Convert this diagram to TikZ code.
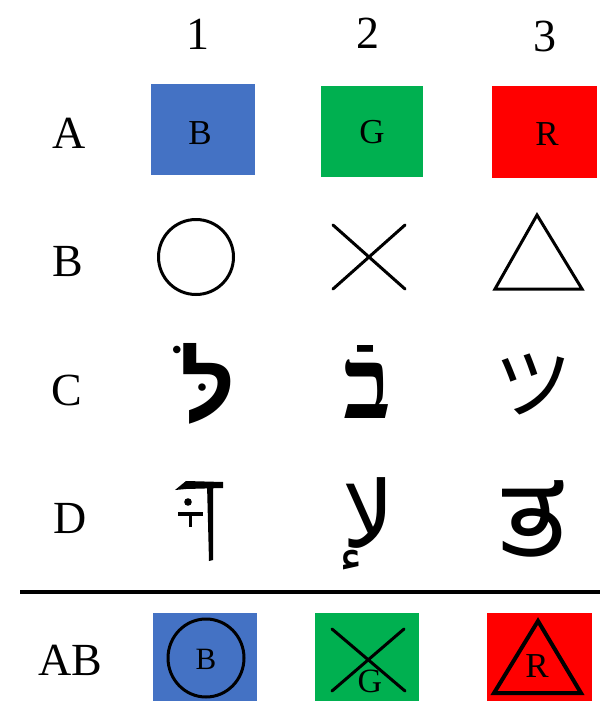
\documentclass[tikz,border=0pt]{standalone}
\usepackage{fontspec}
\setmainfont{Liberation Serif}
\newfontfamily\hebfont[Script=Hebrew]{Liberation Serif}
\newfontfamily\hebsans[Script=Hebrew]{Liberation Sans}
\newfontfamily\jpfont{Noto Sans CJK JP}
\newfontfamily\arabicfont[Script=Arabic]{DejaVu Sans}
\newfontfamily\kanfont[Script=Kannada]{Hind Mysuru}
\TeXXeTstate=1
\definecolor{oblue}{HTML}{4472C4}
\definecolor{ogreen}{HTML}{00B050}
\definecolor{ored}{HTML}{FF0000}
\tikzset{
  lbl/.style={font=\fontsize{46}{46}\selectfont, inner sep=0pt},
  boxlbl/.style={font=\fontsize{35}{35}\selectfont, inner sep=0pt},
  shp/.style={line width=3pt, black},
  glyph/.style={inner sep=0pt}
}
\begin{document}
\begin{tikzpicture}[x=1pt,y=-1pt]
\useasboundingbox (0,0) rectangle (600,701);
% column headers
\node[lbl] (c1) at (198,34) {1};
\node[lbl] (c2) at (368,33) {2};
\node[lbl] (c3) at (545,36) {3};
% row labels
\node[lbl] (rA) at (69,133) {A};
\node[lbl] (rB) at (68,262) {B};
\node[lbl] (rC) at (67,390) {C};
\node[lbl] (rD) at (70,518) {D};
\node[lbl] (rAB) at (70,660) {AB};
% row A
\fill[oblue] (151,84) rectangle (255,175);
\fill[ogreen] (321,86) rectangle (423,177);
\fill[ored] (492,86) rectangle (597,178);
\node[boxlbl] (a1) at (200,133) {B};
\node[boxlbl] (a2) at (372,132) {G};
\node[boxlbl] (a3) at (547,134) {R};
% row B
\draw[shp] (196,257) circle (37.5);
\draw[shp, line cap=round] (333,225) -- (405,289) (405,225) -- (333,289);
\draw[shp, line join=miter] (537,215) -- (582,289) -- (495,289) -- cycle;
% row C
\node[glyph, font=\hebsans\bfseries\fontsize{96}{96}\selectfont] (g1) at (208,384) {\beginR לֹּ\endR};
\node[glyph, font=\hebfont\bfseries\fontsize{100}{100}\selectfont] (g2) at (368,382) {\beginR בֿ\endR};
\node[glyph, font=\jpfont\fontsize{78}{78}\selectfont] (g3) at (533,384) {ツ};
% row D
\fill (175,490) -- (186,481) -- (223,482) -- (223,488) -- (186,489) -- cycle;
\fill (207,484) -- (213,484) -- (213,560) -- (209,561) -- cycle;
\fill (188,502) circle (3.8);
\fill (178,512) rectangle (203,515.5);
\fill (188.5,513) rectangle (192,527);
\node[glyph, font=\arabicfont\fontsize{92}{92}\selectfont] (g5) at (369,524) {\beginR لإ\endR};
\node[glyph, font=\kanfont\fontsize{122}{122}\selectfont] (g6) at (533,519) {ತ};
% rule
\draw[line width=4pt] (20,592) -- (600,592);
% row AB
\fill[oblue] (153,613) rectangle (257,701);
\fill[ogreen] (315,613) rectangle (419,701);
\fill[ored] (487,613) rectangle (592,701);
\draw[shp] (206,658) ellipse (38 and 39);
\node[font=\fontsize{31}{31}\selectfont, inner sep=0pt] (ab1) at (206,659) {B};
\draw[shp, line cap=round] (332,629) -- (405,691) (404,629) -- (332,691);
\node[font=\fontsize{34}{34}\selectfont, inner sep=0pt] (ab2) at (370,681) {G};
\draw[line width=4pt, line join=miter] (538,621) -- (581,693) -- (494,693) -- cycle;
\node[boxlbl] (ab3) at (537,666) {R};
\end{tikzpicture}
\end{document}
